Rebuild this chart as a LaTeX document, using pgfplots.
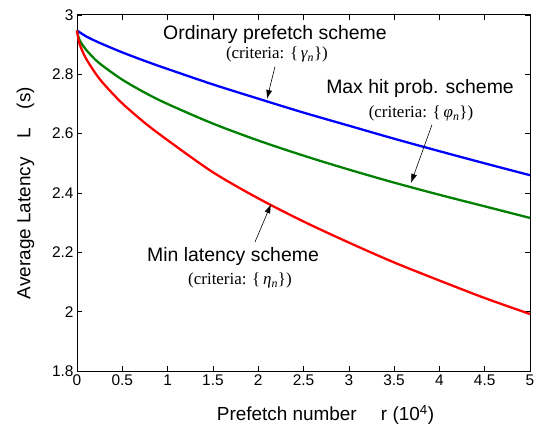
\documentclass[border=0pt]{standalone}
\usepackage{pgfplots}
\pgfplotsset{compat=1.18}
\usepackage{fontspec}
\setmainfont{Liberation Sans}
\newfontfamily\timesfont{Liberation Serif}
\usetikzlibrary{arrows.meta}

\definecolor{mblue}{RGB}{0,0,255}
\definecolor{mgreen}{RGB}{0,128,0}
\definecolor{mred}{RGB}{255,0,0}

\begin{document}
\begin{tikzpicture}
\useasboundingbox (-77bp,-56bp) rectangle (460bp,371bp);
\begin{axis}[
    scale only axis,
    width=453bp, height=356bp,
    xmin=0, xmax=5, ymin=1.8, ymax=3,
    xtick={0,0.5,...,5},
    ytick={1.8,2,2.2,2.4,2.6,2.8,3},
    tick align=inside,
    major tick length=5bp,
    axis line style={line width=1pt},
    every tick/.style={black, line width=0.6pt},
    /pgf/number format/assume math mode=true,
    tick label style={font=\fontsize{15.5}{17}\selectfont},
    every axis x label/.style={at={(axis description cs:0.5,0)}, anchor=center, xshift=22bp, yshift=-44bp},
    every axis y label/.style={at={(axis description cs:-0.114,0.5)}, anchor=center, rotate=90},
    label style={font=\fontsize{19}{21}\selectfont},
    xlabel={Prefetch number\quad\ r (10\textsuperscript{4})},
    ylabel={Average Latency\quad L\quad (s)},
    clip=false,
]
% ordinary prefetch scheme
\addplot[mblue, line width=2.3pt, smooth] coordinates {
(0,2.948) (0.1,2.928) (0.25,2.906) (0.5,2.874) (0.75,2.845) (1,2.818)
(1.5,2.766) (2,2.718) (2.5,2.671) (3,2.627) (3.5,2.583) (4,2.541)
(4.5,2.500) (5,2.460)
};
% max hit prob. scheme
\addplot[mgreen, line width=2.3pt, smooth] coordinates {
(0,2.948) (0.02,2.922) (0.05,2.904) (0.1,2.883) (0.2,2.850) (0.3,2.825)
(0.5,2.782) (0.75,2.738) (1,2.700) (1.5,2.634) (2,2.577) (2.5,2.526)
(3,2.479) (3.5,2.435) (4,2.394) (4.5,2.355) (5,2.316)
};
% min latency scheme
\addplot[mred, line width=2.3pt, smooth] coordinates {
(0,2.948) (0.02,2.911) (0.05,2.885) (0.1,2.853) (0.2,2.805) (0.3,2.766)
(0.5,2.702) (0.75,2.636) (1,2.578) (1.5,2.470) (2,2.382) (2.5,2.304)
(3,2.233) (3.5,2.166) (4,2.105) (4.5,2.046) (5,1.992)
};

\tikzset{lab/.style={inner sep=0pt, font=\fontsize{19.5}{21}\selectfont},
         crit/.style={inner sep=0pt, font=\timesfont\fontsize{17}{18}\selectfont}}
\node[lab] at (axis cs:2.185,2.934) {Ordinary prefetch scheme};
\node[crit] at (axis cs:2.207,2.866) {(criteria: \{\,\textit{γ\textsubscript{n}}\})};
\draw[-{Latex[length=9bp,width=6bp]}, line width=0.6pt] (axis cs:2.185,2.826) -- (axis cs:2.097,2.717);

\node[lab] at (axis cs:3.786,2.752) {Max hit prob. scheme};
\node[crit] at (axis cs:3.797,2.668) {(criteria: \{\,\textit{φ\textsubscript{n}}\})};
\draw[-{Latex[length=9bp,width=6bp]}, line width=0.6pt] (axis cs:3.918,2.630) -- (axis cs:3.687,2.434);

\node[lab] at (axis cs:1.722,2.186) {Min latency scheme};
\node[crit] at (axis cs:1.799,2.105) {(criteria: \{\,\textit{η\textsubscript{n}}\})};
\draw[-{Latex[length=9bp,width=6bp]}, line width=0.6pt] (axis cs:1.965,2.235) -- (axis cs:2.141,2.362);
\end{axis}
\end{tikzpicture}
\end{document}
